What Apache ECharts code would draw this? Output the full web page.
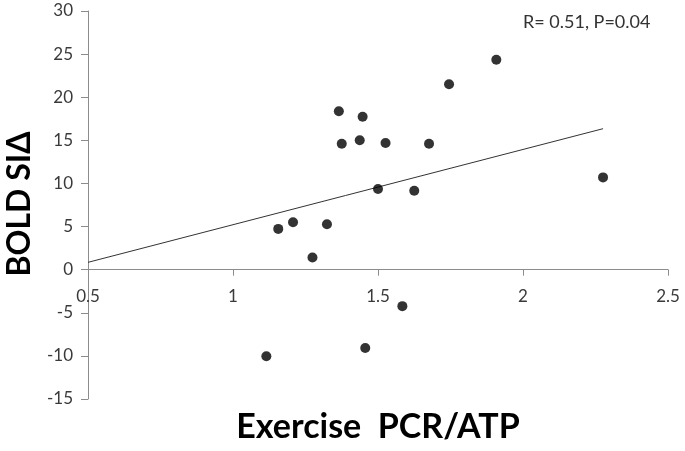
<!DOCTYPE html>
<html>
<head>
<meta charset="utf-8">
<script src="https://cdn.jsdelivr.net/npm/echarts@6/dist/echarts.min.js"></script>
<style>html,body{margin:0;padding:0;background:#fff}#c{width:685px;height:451px}</style>
</head>
<body>
<div id="c"></div>
<script>
var pcrAtp = [1.156, 1.207, 1.324, 1.274, 1.365, 1.375, 1.447, 1.437, 1.526, 1.500, 1.625, 1.676, 1.745, 1.908, 2.276, 1.584, 1.456, 1.115];
var boldSi = [4.73, 5.5, 5.27, 1.42, 18.38, 14.6, 17.73, 15.0, 14.7, 9.35, 9.15, 14.6, 21.5, 24.35, 10.7, -4.23, -9.08, -10.04];
var trendX = [0.5, 2.276];
var trendY = [0.85, 16.35];
var xTicks = [0.5, 1, 1.5, 2, 2.5];
var yTicks = [-15, -10, -5, 0, 5, 10, 15, 20, 25, 30];
var xTitle = 'Exercise  PCR/ATP';
var yTitle = 'BOLD SI\u0394';
var annotation = 'R= 0.51, P=0.04';

var FONT = 'Lato, "Open Sans", sans-serif';
var GRID_TOP = 11, GRID_BOTTOM = 52, H = 451;
var yMin = yTicks[0], yMax = yTicks[yTicks.length - 1];
var gridH = H - GRID_TOP - GRID_BOTTOM;
// move the x axis up from the grid bottom to the y = 0 level
var xAxisOffset = -gridH * (0 - yMin) / (yMax - yMin);

var chart = echarts.init(document.getElementById('c'), null, {renderer: 'canvas'});
var pts = pcrAtp.map(function (v, i) { return [v, boldSi[i]]; });
var trend = trendX.map(function (v, i) { return [v, trendY[i]]; });
chart.setOption({
  animation: false,
  backgroundColor: '#fff',
  grid: {left: 88, right: 17, top: GRID_TOP, bottom: GRID_BOTTOM, containLabel: false},
  xAxis: {
    type: 'value', min: xTicks[0], max: xTicks[xTicks.length - 1], interval: 0.5,
    position: 'bottom', offset: xAxisOffset,
    axisLine: {show: true, onZero: false, lineStyle: {color: '#8c8c8c', width: 1}},
    axisTick: {show: true, inside: false, length: 6, lineStyle: {color: '#8c8c8c'}},
    axisLabel: {color: '#3a3a3a', fontFamily: FONT, fontSize: 17, margin: 18},
    splitLine: {show: false}
  },
  yAxis: {
    type: 'value', min: yMin, max: yMax, interval: 5,
    axisLine: {show: true, onZero: false, lineStyle: {color: '#8c8c8c', width: 1}},
    axisTick: {show: true, length: 7, lineStyle: {color: '#8c8c8c'}},
    axisLabel: {color: '#3a3a3a', fontFamily: FONT, fontSize: 17, margin: 15},
    splitLine: {show: false}
  },
  graphic: [
    {
      type: 'text', left: 523, top: 13,
      style: {text: annotation, font: '18px ' + FONT, fill: '#333'}
    },
    {
      type: 'text', x: 378, y: 427,
      style: {text: xTitle, font: 'bold 34px ' + FONT, fill: '#000', align: 'center', verticalAlign: 'middle'}
    },
    {
      type: 'text', x: 20, y: 204, rotation: Math.PI / 2,
      style: {text: yTitle, font: 'bold 32px ' + FONT, fill: '#000', align: 'center', verticalAlign: 'middle'}
    }
  ],
  series: [
    {
      type: 'line', data: trend, showSymbol: false, symbol: 'none',
      lineStyle: {color: '#333', width: 1}, z: 1
    },
    {
      type: 'scatter', data: pts, symbol: 'circle', symbolSize: 10,
      itemStyle: {color: '#000'}, z: 2
    }
  ]
});
</script>
</body>
</html>
